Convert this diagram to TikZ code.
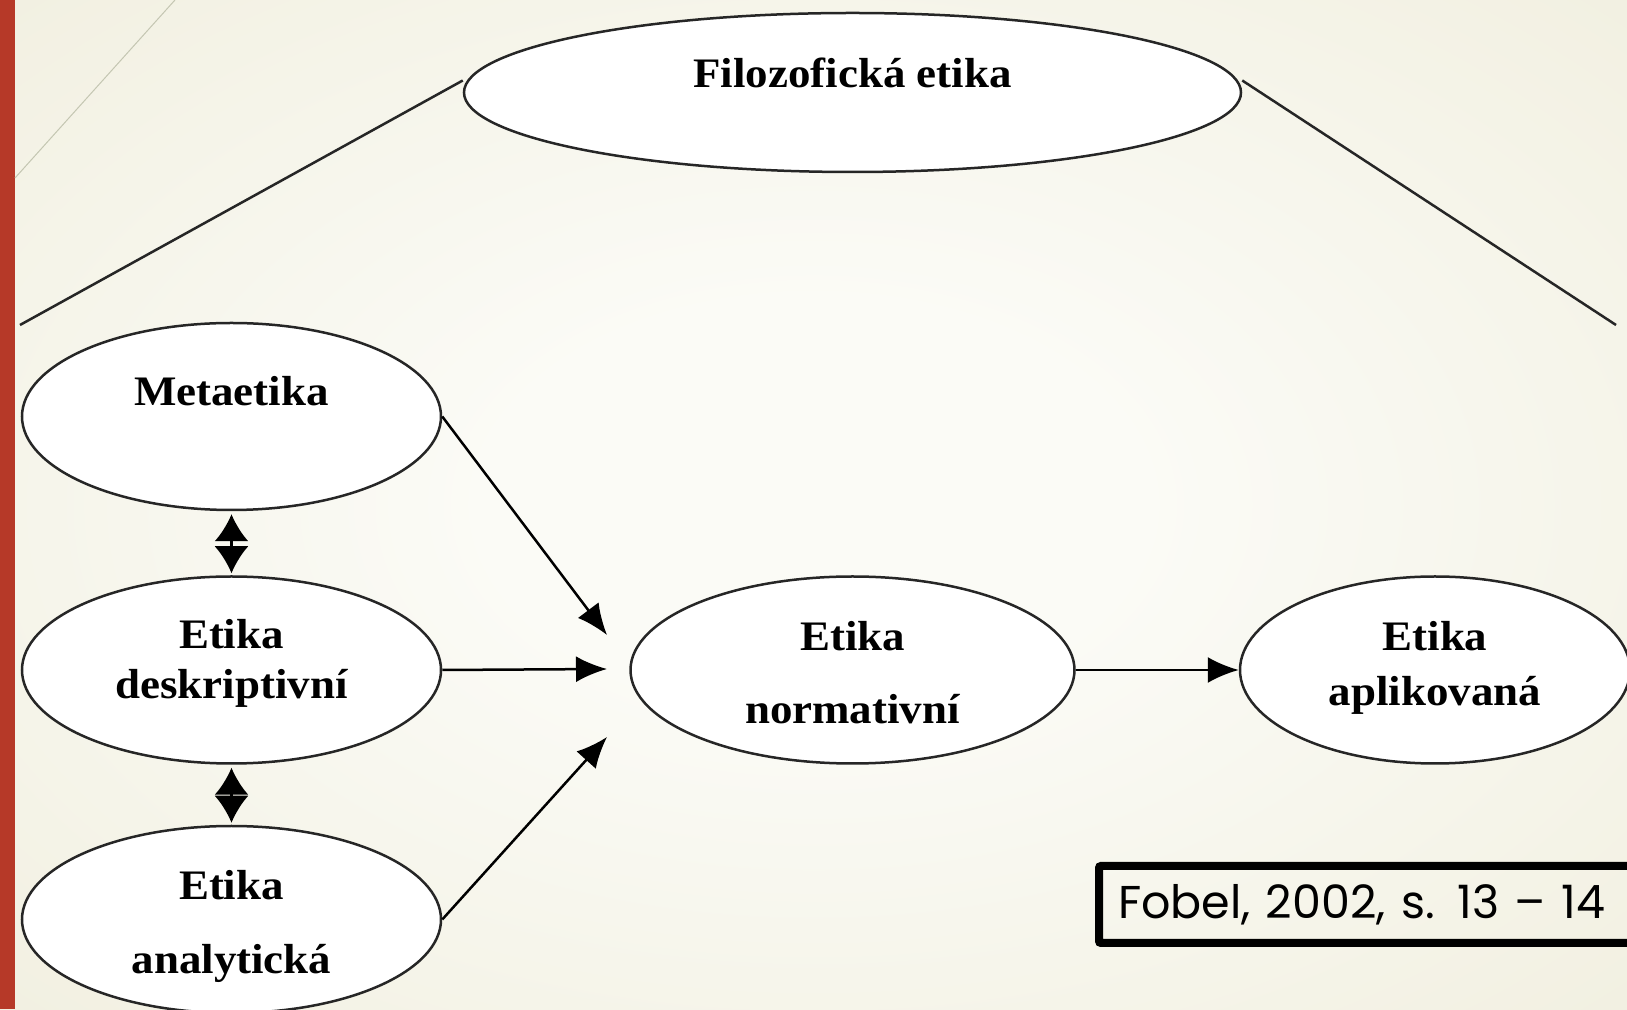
\documentclass[tikz,border=0pt]{standalone}
\usepackage{fontspec}
\setmainfont{Liberation Serif}[FakeStretch=1.07]
\newfontfamily\citefont{Poppins}
\usetikzlibrary{arrows.meta}
\usetikzlibrary{positioning}
\usetikzlibrary{shapes}

\definecolor{slidered}{RGB}{182,57,40}
\definecolor{bgin}{RGB}{251,251,246}
\definecolor{bgout}{RGB}{230,226,199}
\definecolor{decoline}{RGB}{196,198,178}
\pgfdeclareradialshading{slidebg}{\pgfpoint{0bp}{0bp}}{color(0bp)=(bgin); color(10bp)=(bgin); color(68bp)=(bgout)}

\newcommand{\etxt}[2]{\raisebox{#1}[0pt][0pt]{\begin{tabular}{@{}c@{}}#2\end{tabular}}}

\begin{document}
\begin{tikzpicture}
      [x=1pt,y=1pt,
       ethic/.style={ellipse,draw=black!85,line width=2.5pt,fill=white,inner sep=0pt,
         font=\fontsize{42}{50}\selectfont\bfseries},
       flow/.style={-{Latex[length=31pt,width=26pt]},line width=2.5pt},
       dual/.style={{Latex[length=27pt,width=34pt]}-{Latex[length=27pt,width=34pt]},line width=2.5pt,
         shorten <=3pt,shorten >=2pt},
       branch/.style={draw=black!85,line width=2.5pt},
       source/.style={draw=black,line width=8pt,rounded corners=2pt,inner xsep=19pt,
         text width=522pt,align=left,minimum height=77pt,font=\citefont\fontsize{46}{55}\selectfont}]
      % slide
      \useasboundingbox (0,0) rectangle (1627,1009);
      \shade[shading=slidebg] (0,0) rectangle (1627,1009);
      \fill[slidered] (0,0) rectangle (15,1009);
      \draw[decoline,line width=1pt] (175,1009) -- (15,831);
      % place nodes
      \node[ethic,minimum width=419pt,minimum height=187pt] (meta) at (231.5,592.5) {\etxt{15pt}{Metaetika}};
      \node[ethic,minimum width=419pt,minimum height=187pt] (desk) [below=64pt of meta] {\etxt{0pt}{Etika\\deskriptivní}};
      \node[ethic,minimum width=419pt,minimum height=187pt] (anal) [below=60pt of desk] {\etxt{-13pt}{Etika\\[23.5pt]analytická}};
      \node[ethic,minimum width=444pt,minimum height=187pt] (norm) [right=187pt of desk] {\etxt{-13pt}{Etika\\[22.5pt]normativní}};
      \node[ethic,minimum width=390pt,minimum height=187pt] (apl) [right=163pt of norm] {\etxt{-4pt}{Etika\\[5pt]aplikovaná}};
      \node[ethic,minimum width=777pt,minimum height=159pt] (filo) [above=402pt of norm] {\etxt{9pt}{Filozofická etika}};
      \node[source,anchor=west] (cite) at (1095,104.5) {Fobel, 2002, s. 13 – 14};
      \coordinate (tipm) at (607,374);
      \coordinate (tipd) at (607,340);
      \coordinate (tipa) at (607,272);
      \coordinate (lend) at (20,684);
      \coordinate (rend) at (1616,684);
      % add edges
      \draw[branch] ([yshift=12pt]filo.west) -- (lend);
      \draw[branch] ([yshift=12pt]filo.east) -- (rend);
      \draw[dual] (meta.south) -- (desk.north);
      \draw[dual] (desk.south) -- (anal.north);
      \draw[flow] (meta.east) -- (tipm);
      \draw[flow] (desk.east) -- (tipd);
      \draw[flow] (anal.east) -- (tipa);
      \draw[flow] (norm.east) -- (apl.west);
\end{tikzpicture}
\end{document}
